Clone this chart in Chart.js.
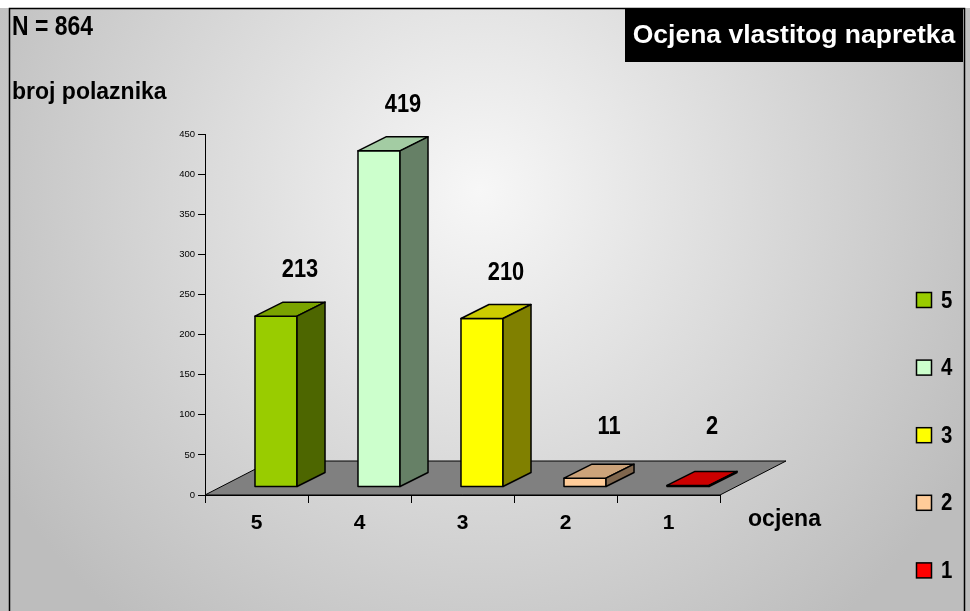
<!DOCTYPE html>
<html>
<head>
<meta charset="utf-8">
<script src="https://cdn.jsdelivr.net/npm/chart.js@4.4.0/dist/chart.umd.min.js"></script>
<style>
  html, body { margin: 0; padding: 0; background: #fff; }
  canvas { display: block; }
</style>
</head>
<body>
<canvas id="ratingChart" width="970" height="611"></canvas>
<script>
// data
const categories = ['5', '4', '3', '2', '1'];
const counts = [213, 419, 210, 11, 2];
const frontColors = ['#99cc00', '#ccffcc', '#ffff00', '#ffcc99', '#ff0000'];
const yMax = 450;
const yStep = 50;
const totalLabel = 'N = 864';
const chartTitle = 'Ocjena vlastitog napretka';
const yAxisLabel = 'broj polaznika';
const xAxisLabel = 'ocjena';

const FONT = "'Liberation Sans', Arial, sans-serif";

// fake 3d geometry (pixels)
const BAR_DX = 28, BAR_DY = -14;
const FLOOR_DX = 66, FLOOR_DY = -34;
const FRONT_SHIFT_X = 19.5, FRONT_SHIFT_Y = -8;

function shade(hex, f) {
    const n = parseInt(hex.slice(1), 16);
    const r = Math.round(((n >> 16) & 255) * f);
    const g = Math.round(((n >> 8) & 255) * f);
    const b = Math.round((n & 255) * f);
    return 'rgb(' + r + ',' + g + ',' + b + ')';
}

function poly(ctx, pts, fill) {
    ctx.beginPath();
    ctx.moveTo(pts[0][0], pts[0][1]);
    for (let i = 1; i < pts.length; i++) ctx.lineTo(pts[i][0], pts[i][1]);
    ctx.closePath();
    ctx.fillStyle = fill;
    ctx.fill();
    ctx.stroke();
}

// no narrow font installed, so squeeze the text horizontally
function narrowText(ctx, text, x, y, sx) {
    ctx.save();
    ctx.translate(x, y);
    ctx.scale(sx, 1);
    ctx.fillText(text, 0, 0);
    ctx.restore();
}

const bars3d = {
    id: 'bars3d',
    beforeDraw(chart) {
        const { ctx, width, height } = chart;
        ctx.save();
        ctx.fillStyle = '#ffffff';
        ctx.fillRect(0, 0, width, height);
        const grad = ctx.createRadialGradient(480, 190, 0, 480, 190, 560);
        grad.addColorStop(0, '#f7f7f7');
        grad.addColorStop(1, '#bdbdbd');
        ctx.fillStyle = grad;
        ctx.fillRect(0, 8, width, height - 8);
        // frame
        ctx.strokeStyle = '#000';
        ctx.lineWidth = 1.5;
        ctx.beginPath();
        ctx.moveTo(9.5, height);
        ctx.lineTo(9.5, 8.5);
        ctx.lineTo(964.5, 8.5);
        ctx.lineTo(964.5, height);
        ctx.stroke();
        ctx.restore();
    },
    beforeDatasetsDraw(chart) {
        const { ctx, chartArea: a } = chart;
        ctx.save();
        ctx.strokeStyle = '#000';
        ctx.lineWidth = 1;
        poly(ctx, [
            [a.left, a.bottom],
            [a.right, a.bottom],
            [a.right + FLOOR_DX, a.bottom + FLOOR_DY],
            [a.left + FLOOR_DX, a.bottom + FLOOR_DY]
        ], '#808080');

        ctx.lineWidth = 1.5;
        ctx.lineJoin = 'round';
        const meta = chart.getDatasetMeta(0);
        meta.data.forEach((bar, i) => {
            const col = frontColors[i];
            const x0 = bar.x - bar.width / 2 + FRONT_SHIFT_X;
            const x1 = x0 + bar.width;
            const yb = bar.base + FRONT_SHIFT_Y;
            const yt = bar.y + FRONT_SHIFT_Y;
            poly(ctx, [[x0, yb], [x0, yt], [x1, yt], [x1, yb]], col);
            poly(ctx, [[x0, yt], [x1, yt], [x1 + BAR_DX, yt + BAR_DY], [x0 + BAR_DX, yt + BAR_DY]], shade(col, 0.8));
            poly(ctx, [[x1, yt], [x1 + BAR_DX, yt + BAR_DY], [x1 + BAR_DX, yb + BAR_DY], [x1, yb]], shade(col, 0.5));

            // value label
            ctx.fillStyle = '#000';
            ctx.font = 'bold 26px ' + FONT;
            ctx.textAlign = 'center';
            ctx.textBaseline = 'middle';
            const ly = Math.min(yt - 46, bar.base - 68);
            narrowText(ctx, String(counts[i]), bar.x + 43.5, ly, 0.84);
        });
        ctx.restore();
        return false;
    },
    afterDraw(chart) {
        const { ctx, chartArea: a } = chart;
        ctx.save();
        ctx.fillStyle = '#000';
        ctx.textBaseline = 'middle';
        ctx.textAlign = 'left';

        ctx.font = 'bold 27px ' + FONT;
        narrowText(ctx, totalLabel, 12, 28, 0.85);

        ctx.font = 'bold 23px ' + FONT;
        ctx.fillText(yAxisLabel, 12, 93);

        ctx.font = 'bold 24px ' + FONT;
        narrowText(ctx, xAxisLabel, a.right + 28, 519, 0.96);

        // title box
        ctx.fillRect(625, 8, 338, 54);
        ctx.fillStyle = '#fff';
        ctx.textAlign = 'center';
        ctx.font = 'bold 26.5px ' + FONT;
        ctx.fillText(chartTitle, 794, 36);

        // legend
        ctx.textAlign = 'left';
        ctx.font = 'bold 24px ' + FONT;
        ctx.lineWidth = 1.5;
        ctx.strokeStyle = '#000';
        categories.forEach((c, i) => {
            const cy = 300 + i * 67.6;
            ctx.fillStyle = frontColors[i];
            ctx.fillRect(916.5, cy - 7.5, 15, 15);
            ctx.strokeRect(916.5, cy - 7.5, 15, 15);
            ctx.fillStyle = '#000';
            narrowText(ctx, c, 941, cy + 1, 0.85);
        });
        ctx.restore();
    }
};

new Chart(document.getElementById('ratingChart'), {
    type: 'bar',
    data: {
        labels: categories,
        datasets: [{
            label: yAxisLabel,
            data: counts,
            backgroundColor: frontColors,
            barPercentage: 0.408,
            categoryPercentage: 1
        }]
    },
    options: {
        responsive: false,
        animation: false,
        layout: {
            padding: { left: 0, right: 250, top: 134, bottom: 0 }
        },
        plugins: {
            legend: { display: false },
            tooltip: { enabled: false }
        },
        scales: {
            x: {
                grid: {
                    offset: true,
                    drawOnChartArea: false,
                    drawTicks: true,
                    tickLength: 8,
                    color: '#000'
                },
                border: { display: true, color: '#000', width: 1 },
                ticks: {
                    color: '#000',
                    padding: 8,
                    font: { family: FONT, size: 21, weight: 'bold' }
                },
                afterFit(scale) { scale.height = 116; }
            },
            y: {
                min: 0,
                max: yMax,
                ticks: {
                    stepSize: yStep,
                    color: '#000',
                    padding: 3,
                    font: { family: FONT, size: 9.5 }
                },
                grid: {
                    drawOnChartArea: false,
                    drawTicks: true,
                    tickLength: 7,
                    color: '#000'
                },
                border: { display: true, color: '#000', width: 1 },
                afterFit(scale) { scale.width = 205; }
            }
        }
    },
    plugins: [bars3d]
});
</script>
</body>
</html>
